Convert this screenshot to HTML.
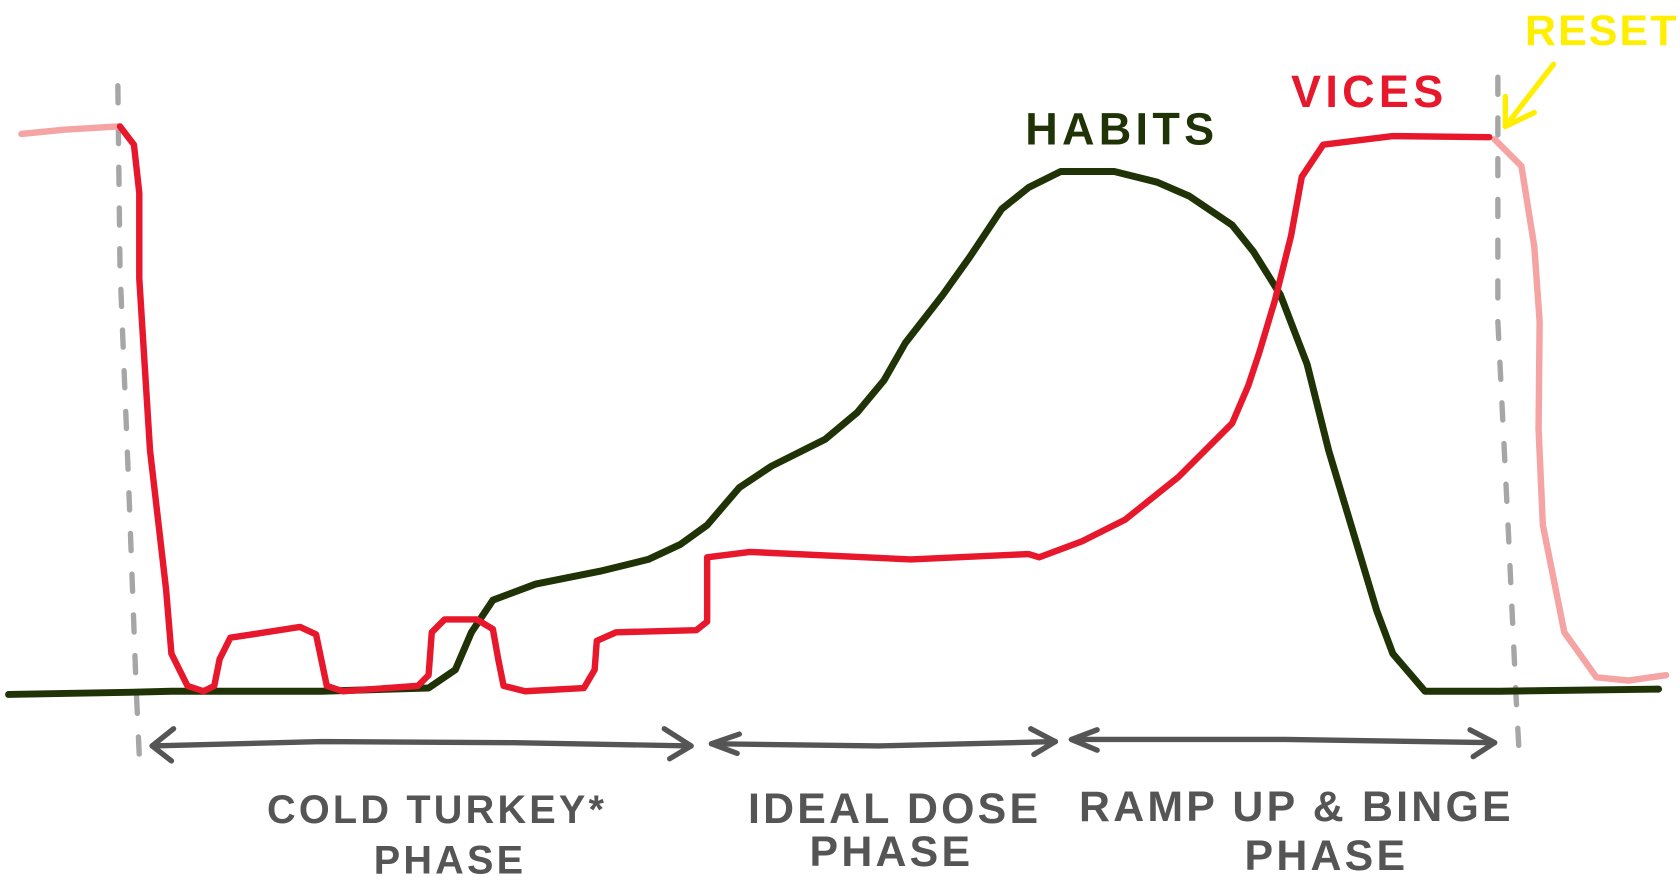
<!DOCTYPE html>
<html><head><meta charset="utf-8"><style>
html,body{margin:0;padding:0;background:#fff;}
svg{display:block;}
text{font-family:"Liberation Sans",sans-serif;font-weight:bold;}
</style></head><body>
<svg width="1680" height="882" viewBox="0 0 1568 823" preserveAspectRatio="none" xmlns="http://www.w3.org/2000/svg">
<rect width="1568" height="823" fill="#fff"/>
<path d="M110 80 L112 250 L120 450 L127 640 L130 705" stroke="#a6a6a6" stroke-width="5" fill="none" stroke-dasharray="16 22" stroke-linecap="round"/>
<path d="M1398 72 L1398 300 L1408 500 L1415 650 L1418 705" stroke="#a6a6a6" stroke-width="5" fill="none" stroke-dasharray="16 22" stroke-linecap="round"/>
<polyline fill="none" stroke="#1f3306" stroke-width="6.5" stroke-linejoin="round" stroke-linecap="round" points="8,648 120,646 160,645 300,645 400,642 425,625 440,590 460,560 500,545 560,533 605,522 635,508 660,490 690,455 720,435 770,410 800,385 825,355 845,320 880,275 905,240 935,195 960,175 990,160 1040,160 1080,170 1110,183 1150,210 1170,235 1195,275 1220,340 1240,420 1255,470 1270,520 1285,570 1300,610 1330,645 1400,645 1548,643"/>
<polyline fill="none" stroke="#f5a3a3" stroke-width="6" stroke-linejoin="round" stroke-linecap="round" points="20,125 60,121 110,118"/>
<polyline fill="none" stroke="#f5a3a3" stroke-width="6" stroke-linejoin="round" stroke-linecap="round" points="1395,130 1420,155 1432,230 1437,300 1436,400 1440,490 1460,590 1490,632 1520,635 1555,630"/>
<polyline fill="none" stroke="#e8182c" stroke-width="6" stroke-linejoin="round" stroke-linecap="round" points="112,118 125,135 130,180 130,260 140,420 155,550 160,610 175,640 190,645 200,640 205,615 215,595 235,592 280,585 295,592 305,640 320,645 390,640 400,630 403,590 415,578 445,578 460,587 465,615 470,640 490,645 545,642 555,625 557,598 575,590 650,588 660,580 660,520 700,515 850,522 960,517 970,520 1010,505 1050,485 1100,445 1150,395 1165,360 1175,330 1190,280 1205,220 1215,165 1235,135 1300,127 1390,128"/>
<g fill="none" stroke="#555" stroke-width="5" stroke-linecap="round" stroke-linejoin="round">
<path d="M142 696 L300 692 L480 693 L645 696"/>
<path d="M162 680 L142 696 L160 710"/>
<path d="M620 680 L645 696 L625 708"/>
<path d="M664 694 L820 696 L985 692"/>
<path d="M690 685 L664 694 L688 703"/>
<path d="M962 680 L985 692 L965 704"/>
<path d="M1000 690 L1200 690 L1395 693"/>
<path d="M1024 681 L1000 690 L1024 700"/>
<path d="M1372 681 L1395 693 L1375 706"/>
</g>
<g fill="#555" text-anchor="middle" letter-spacing="3">
<text x="408" y="768" font-size="37">COLD TURKEY*</text>
<text x="420" y="815" font-size="37">PHASE</text>
<text x="835" y="768" font-size="40">IDEAL DOSE</text>
<text x="832" y="808" font-size="40">PHASE</text>
<text x="1210" y="766" font-size="40">RAMP UP &amp; BINGE</text>
<text x="1238" y="812" font-size="40">PHASE</text>
</g>
<text x="1047" y="135" fill="#1f3306" font-size="42" text-anchor="middle" letter-spacing="4">HABITS</text>
<text x="1278" y="100" fill="#e8182c" font-size="42" text-anchor="middle" letter-spacing="4">VICES</text>
<text x="1495" y="42" fill="#ffee00" font-size="40" text-anchor="middle" letter-spacing="2">RESET</text>
<g fill="none" stroke="#ffee00" stroke-width="5" stroke-linecap="round" stroke-linejoin="round">
<path d="M1450 60 L1405 118"/>
<path d="M1405 90 L1405 118 L1432 105"/>
</g>
</svg>
</body></html>
